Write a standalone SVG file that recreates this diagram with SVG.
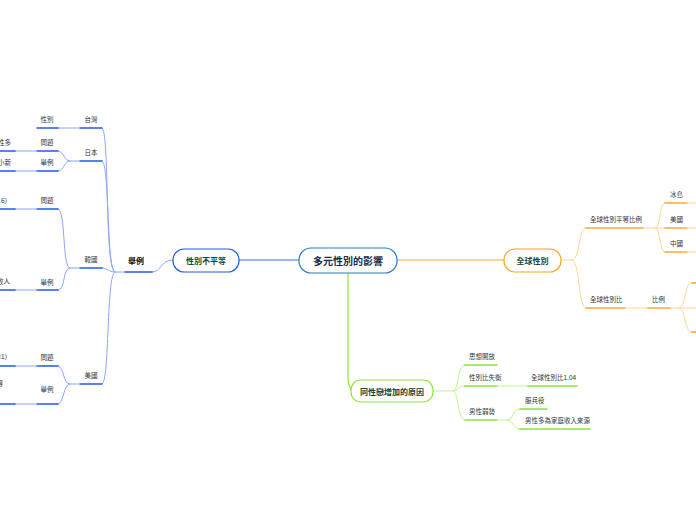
<svg xmlns="http://www.w3.org/2000/svg" width="696" height="520" viewBox="0 0 696 520">
<style>
text{font-family:"Noto Sans CJK TC","Noto Sans",sans-serif;}
.s{font-size:6.5px;fill:#333;}
.n{font-size:8px;font-weight:bold;fill:#17462b;}
.c{fill:none;stroke-linecap:round;}
.bl{stroke:#8aa6ff;stroke-width:1;}
.bd{stroke:#2258f0;stroke-width:1.6;}
.ol{stroke:#fcd79a;stroke-width:1;}
.od{stroke:#f7a934;stroke-width:1.6;}
.gl{stroke:#c3f28f;stroke-width:1;}
.gd{stroke:#8ee43a;stroke-width:1.6;}
</style>
<rect width="696" height="520" fill="#fff"/>
<g id="connectors">
<!-- center to left -->
<path class="c" d="M299,260 L239,260" stroke="#3b6cf5" stroke-width="1.2"/>
<path class="c bl" d="M173,260 C160,260 162,272 152,272"/>
<path class="c bd" d="M125,272 L152,272"/>
<path class="c bl" d="M125,272 L115,272"/>
<path class="c bl" d="M115,272 C104,272 110,128 102,128"/>
<path class="c bl" d="M115,272 C106,272 110,161 102,161"/>
<path class="c bl" d="M115,272 C108,272 108,268 102,268"/>
<path class="c bl" d="M115,272 C106,272 110,384 102,384"/>
<path class="c bd" d="M80,128 L102,128 M80,161 L102,161 M80,268 L102,268 M80,384 L102,384"/>
<!-- taiwan -->
<path class="c bl" d="M58,128 L80,128"/>
<path class="c bd" d="M37,128 L58,128"/>
<!-- japan -->
<path class="c bl" d="M80,161 L70,161 C64,161 64,151 58,151 M70,161 C64,161 64,171 58,171"/>
<path class="c bd" d="M37,151 L58,151 M37,171 L58,171"/>
<path class="c bl" d="M15,151 L37,151 M15,171 L37,171"/>
<path class="c bd" d="M0,151 L15,151 M0,171 L15,171"/>
<!-- korea -->
<path class="c bl" d="M80,268 L70,268 C62,268 66,209 58,209 M70,268 C62,268 66,290 58,290"/>
<path class="c bd" d="M37,209 L58,209 M37,290 L58,290"/>
<path class="c bl" d="M15,209 L37,209 M15,290 L37,290"/>
<path class="c bd" d="M0,209 L15,209 M0,290 L15,290"/>
<!-- usa -->
<path class="c bl" d="M80,384 L70,384 C63,384 64,366 58,366 M70,384 C63,384 64,404 58,404"/>
<path class="c bd" d="M37,366 L58,366 M37,404 L58,404"/>
<path class="c bl" d="M15,366 L37,366 M15,404 L37,404"/>
<path class="c bd" d="M0,366 L15,366 M0,404 L15,404"/>
<!-- right -->
<path class="c" d="M397,260 L504,260" stroke="#f7a934" stroke-width="1.2"/>
<path class="c ol" d="M561,260 L572,260 C580,260 578,228 586,228 M572,260 C580,260 578,308 586,308"/>
<path class="c od" d="M586,228 L643,228 M586,308 L625,308"/>
<path class="c ol" d="M643,228 L655,228 C661,228 659,203 665,203 M655,228 L665,228 M655,228 C661,228 659,252 665,252"/>
<path class="c od" d="M665,203 L687,203 M665,228 L687,228 M665,252 L687,252"/>
<path class="c ol" d="M687,203 L696,203 M687,228 L696,228 M687,252 L696,252"/>
<path class="c ol" d="M625,308 L648,308"/>
<path class="c od" d="M648,308 L670,308"/>
<path class="c ol" d="M670,308 L679,308 C686,308 684,283 692,283 L696,283 M679,308 L696,308 M679,308 C686,308 684,332 692,332 L696,332"/>
<path class="c od" d="M692,283 L696,283 M692,332 L696,332"/>
<!-- bottom -->
<path class="c" d="M348,273 L348,378 Q348,390 356,391" stroke="#8ee43a" stroke-width="1.2"/>
<path class="c gl" d="M433,391 L453,391 C459,391 457,365 465,365 M453,391 C459,391 457,386 465,386 M453,391 C459,391 457,420 465,420"/>
<path class="c gd" d="M465,365 L497,365 M465,386 L497,386 M465,420 L497,420"/>
<path class="c gl" d="M497,386 L528,386"/>
<path class="c gd" d="M528,386 L577,386"/>
<path class="c gl" d="M497,420 L507,420 C514,420 512,409 520,409 M507,420 C514,420 512,429 520,429"/>
<path class="c gd" d="M520,409 L547,409 M520,429 L590,429"/>
</g>
<g id="center">
<rect x="299" y="248" width="98" height="25" rx="12" fill="#fff" stroke="#2b7cc4" stroke-width="1.2"/>
<text x="348" y="264.5" text-anchor="middle" font-size="10" font-weight="bold" fill="#1a2b4c">多元性別的影響</text>
</g>
<g id="inequality">
<rect x="173" y="249" width="66" height="23" rx="11" fill="#fff" stroke="#1f5ce6" stroke-width="1.2"/>
<text x="206" y="263.5" text-anchor="middle" class="n">性別不平等</text>
</g>
<g id="examples"><text x="136" y="264" text-anchor="middle" font-size="8" font-weight="bold" fill="#111" style="font-family:'Noto Sans CJK TC',sans-serif">舉例</text></g>
<g id="tw"><text x="91" y="122" text-anchor="middle" class="s">台灣</text></g>
<g id="tw-gender"><text x="47" y="122" text-anchor="middle" class="s">性別</text></g>
<g id="jp"><text x="91" y="155" text-anchor="middle" class="s">日本</text></g>
<g id="jp-q"><text x="47" y="145" text-anchor="middle" class="s">問題</text></g>
<g id="jp-e"><text x="47" y="165" text-anchor="middle" class="s">舉例</text></g>
<g id="jp-q1"><text x="11" y="145" text-anchor="end" class="s">性多</text></g>
<g id="jp-e1"><text x="11" y="165" text-anchor="end" class="s">小新</text></g>
<g id="kr"><text x="91" y="262" text-anchor="middle" class="s">韓國</text></g>
<g id="kr-q"><text x="47" y="203" text-anchor="middle" class="s">問題</text></g>
<g id="kr-e"><text x="47" y="285" text-anchor="middle" class="s">舉例</text></g>
<g id="kr-q1"><text x="11" y="203" text-anchor="end" class="s">16）</text></g>
<g id="kr-e1"><text x="10" y="284" text-anchor="end" class="s">收人</text></g>
<g id="us"><text x="91" y="378" text-anchor="middle" class="s">美國</text></g>
<g id="us-q"><text x="47" y="360" text-anchor="middle" class="s">問題</text></g>
<g id="us-e"><text x="47" y="392" text-anchor="middle" class="s">舉例</text></g>
<g id="us-q1"><text x="11" y="359" text-anchor="end" class="s">21）</text></g>
<g id="us-e1"><text x="3" y="386" text-anchor="end" class="s">得</text></g>
<g id="global">
<rect x="504" y="249" width="57" height="23" rx="11" fill="#fff" stroke="#f5a623" stroke-width="1.2"/>
<text x="532.5" y="263.5" text-anchor="middle" class="n">全球性別</text>
</g>
<g id="g-ratio-eq"><text x="590" y="222" class="s">全球性別平等比例</text></g>
<g id="iceland"><text x="670" y="197" class="s">冰島</text></g>
<g id="g-us"><text x="670" y="222" class="s">美國</text></g>
<g id="china"><text x="670" y="246" class="s">中國</text></g>
<g id="g-ratio"><text x="590" y="302" class="s">全球性別比</text></g>
<g id="ratio"><text x="652" y="302" class="s">比例</text></g>
<g id="reasons">
<rect x="351" y="380" width="82" height="22" rx="10" fill="#fff" stroke="#8ee43a" stroke-width="1.2"/>
<text x="392" y="394.5" text-anchor="middle" class="n">同性戀增加的原因</text>
</g>
<g id="open"><text x="469" y="359" class="s">思想開放</text></g>
<g id="imbalance"><text x="469" y="380" class="s">性別比失衡</text></g>
<g id="ratio104"><text x="531" y="380" class="s">全球性別比1.04</text></g>
<g id="weak"><text x="469" y="414" class="s">男性弱勢</text></g>
<g id="military"><text x="525" y="403" class="s">服兵役</text></g>
<g id="income"><text x="525" y="423" class="s">男性多為家庭收入來源</text></g>
</svg>
